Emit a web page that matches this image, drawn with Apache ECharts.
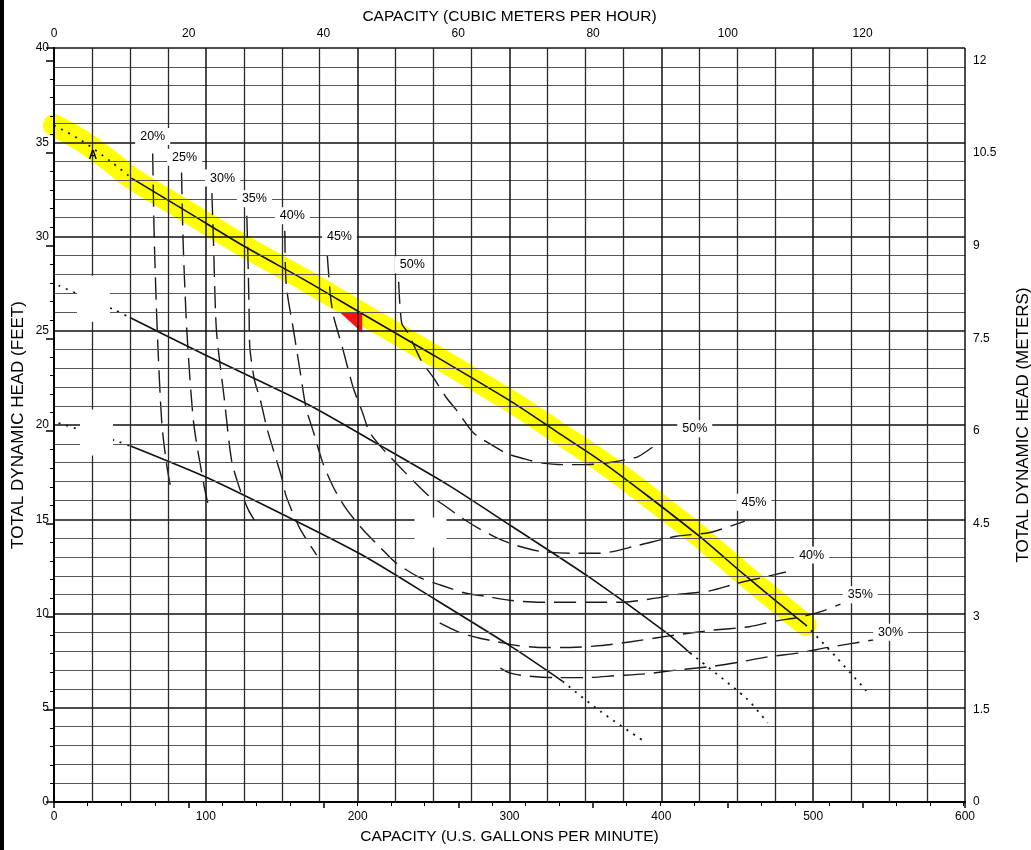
<!DOCTYPE html>
<html><head><meta charset="utf-8">
<script src="https://cdn.jsdelivr.net/npm/echarts@6/dist/echarts.min.js"></script>
<style>html,body{margin:0;padding:0;background:#fff}#chart{width:1031px;height:850px}</style>
</head><body><div id="chart"></div>
<script>
// ---- axis ranges / ticks ----
const gpmRange = [0, 600];          // bottom axis (US GPM)
const m3hRange = [0, 135.2];        // top axis (m3/h)
const feetRange = [0, 40];          // left axis (ft)
const meterRange = [0, 12.2];       // right axis (m)

// ---- pump curves (gpm, ft) ----
const topDotA   = [[0,35.9],[18,35.1],[37,34.0],[51,33.1]];
const topSolid  = [[51,33.1],[90,31.2],[127,29.4],[165,27.7],[203,25.9],[250,23.7],[302,21.2],[330,19.7],[360,18.1],[390,16.3],[425,14.1],[454,12.1],[475,10.7],[495,9.4]];
const topDotB   = [[495,9.4],[515,7.7],[535,5.9]];
const midDotA   = [[3,27.4],[20,26.8],[40,26.1],[50,25.7]];
const midSolid  = [[50,25.7],[100,23.7],[167,21.1],[213,19.0],[260,16.8],[302,14.6],[353,11.9],[403,9.0],[419,7.9]];
const midDotB   = [[419,7.9],[456,5.5],[470,4.2]];
const botDotA   = [[3,20.1],[43,19.1],[50,18.9]];
const botSolid  = [[50,18.9],[101,17.2],[157,15.0],[203,13.1],[250,10.8],[302,8.2],[335,6.4]];
const botDotB   = [[335,6.4],[360,4.8],[389,3.2]];

// ---- efficiency curves (gpm, ft) ----
const eff20 = [[65,34.4],[66,30.0],[68,25.0],[71,20.1],[74,18.0],[77,16.6]];
const eff25 = [[84,33.4],[85,29.8],[87.5,25.0],[92,20.1],[99,16.7],[101.5,15.8]];
const eff30 = [[104,32.3],[105,29.8],[107,25.0],[112,21.5],[117,18.1],[122,16.7],[128,15.5],[134,14.7]];
const eff35 = [[127,31.1],[128,28.0],[128.5,25.9],[129,24.1],[132,22.4],[136,21.3],[140,19.9],[144,18.8],[150,17.2],[153,16.2],[162,14.5],[173,13.1]];
const eff40 = [[152,30.3],[153,27.4],[158,24.9],[162,22.9],[166,20.9],[171,19.6],[177,18.0],[184,16.7],[192,15.6],[204,14.4],[215,13.5],[225,12.7],[241,11.9],[255,11.5],[270,11.1],[285,10.9],[300,10.7],[320,10.6],[350,10.6],[375,10.6],[395,10.8],[410,11.0],[432,11.2],[450,11.6],[466,11.9],[482,12.2]];
const eff45 = [[180,29.0],[182,26.9],[184,25.8],[190,24.1],[197,22.0],[203,20.7],[208,19.6],[218,18.6],[231,17.5],[246,16.3],[254,15.9],[270,15.0],[280,14.5],[292,14.0],[305,13.6],[320,13.3],[340,13.2],[360,13.2],[384,13.6],[410,14.1],[432,14.3],[455,14.9]];
const eff50 = [[227,27.6],[229,25.4],[233,24.9],[242,23.4],[250,22.5],[258,21.5],[265,20.8],[276,19.6],[285,19.1],[298,18.5],[310,18.2],[320,18.0],[335,17.9],[350,17.9],[365,18.0],[384,18.3],[392,18.7],[399,19.1]];
const eff35Low = [[254,9.5],[267,9.0],[280,8.7],[292,8.5],[305,8.3],[320,8.2],[340,8.2],[360,8.3],[380,8.5],[404,8.8],[432,9.1],[458,9.3],[475,9.6],[491,9.8],[505,10.1],[518,10.5]];
const eff30Low = [[294,7.1],[300,6.85],[310,6.7],[330,6.6],[350,6.6],[370,6.7],[390,6.8],[410,7.0],[434,7.2],[450,7.4],[470,7.7],[490,7.9],[510,8.2],[540,8.6]];

// ---- labels ----
const effLabelNames = ['20%','25%','30%','35%','40%','45%','50%','50%','45%','40%','35%','30%'];
const effLabelPos   = [[65,35.3],[86,34.2],[111,33.1],[132,32.0],[157,31.1],[188,30.0],[236,28.5],[422,19.8],[461,15.9],[499,13.1],[531,11.0],[551,9.0]];
const pointALabel = ['A'];
const pointAPos = [[25.5,34.3]];
const redTri = [[188,26.0],[203,26.0],[203,24.9]];
const erasePos = [[26,26.7],[28,19.6]];
const erasePos2 = [[248,14.3]];

const FONT = '"Liberation Sans", Arial, Helvetica, sans-serif';
const INK = '#000';

function curve(data, style, z) {
  return {
    type: 'line', data: data, symbol: 'none', showSymbol: false, smooth: 0.25,
    silent: true, animation: false, z: z || 2,
    lineStyle: Object.assign({ color: '#111', width: 1.4 }, style)
  };
}
const solid = { type: 'solid', width: 1.6 };
const dotted = { type: [2, 6], width: 1.8 };
const dashed = { type: [22, 9], width: 1.4, color: '#1a1a1a' };

const series = [];
// yellow highlighter
series.push({
  type: 'line', data: topDotA.concat(topSolid.slice(1)), symbol: 'none', smooth: 0.25,
  silent: true, animation: false, clip: false, z: 1,
  lineStyle: { color: '#ffff00', width: 22, cap: 'round', join: 'round' }
});
// red marker
series.push({
  type: 'custom', data: redTri, silent: true, z: 2, animation: false,
  renderItem: function (params, api) {
    if (params.dataIndex !== 0) return null;
    return { type: 'polygon', shape: { points: redTri.map(function (p) { return api.coord(p); }) }, style: { fill: '#ff1010' } };
  }
});
[topSolid, midSolid, botSolid].forEach(function (d) { series.push(curve(d, solid, 2)); });
[topDotA, topDotB, midDotA, midDotB, botDotA, botDotB].forEach(function (d) { series.push(curve(d, dotted, 2)); });
[eff20, eff25, eff30, eff35, eff40, eff45, eff50, eff35Low, eff30Low].forEach(function (d) { series.push(curve(d, dashed, 2)); });

// erased patches (white)
series.push({
  type: 'scatter', data: erasePos, symbol: 'rect', symbolSize: [33, 46], silent: true, z: 4, animation: false,
  itemStyle: { color: '#ffffff', opacity: 1 }
});
series.push({
  type: 'scatter', data: erasePos2, symbol: 'rect', symbolSize: [32, 30], silent: true, z: 4, animation: false,
  itemStyle: { color: '#ffffff', opacity: 1 }
});
// efficiency labels
series.push({
  type: 'scatter', silent: true, z: 6, animation: false, symbol: 'rect', symbolSize: 1,
  itemStyle: { color: 'rgba(0,0,0,0)', opacity: 1 },
  data: effLabelPos.map(function (p, i) { return { name: effLabelNames[i], value: p }; }),
  label: {
    show: true, position: 'inside', formatter: '{b}', color: INK, fontFamily: FONT, fontSize: 12.5,
    backgroundColor: '#ffffff', padding: [2, 5], opacity: 1
  }
});
series.push({
  type: 'scatter', silent: true, z: 6, animation: false, symbol: 'rect', symbolSize: 1,
  itemStyle: { color: 'rgba(0,0,0,0)', opacity: 1 },
  data: pointAPos.map(function (p, i) { return { name: pointALabel[i], value: p }; }),
  label: { show: true, position: 'inside', formatter: '{b}', color: INK, fontFamily: FONT, fontSize: 12, fontWeight: 'bold', opacity: 1 }
});

const axisLineStyle = { show: true, lineStyle: { color: '#000', width: 2 } };
const labelStyle = { color: INK, fontFamily: FONT, fontSize: 12 };
const nameStyle = { color: INK, fontFamily: FONT, fontSize: 15.5 };
const vNameStyle = { color: INK, fontFamily: FONT, fontSize: 17 };

const option = {
  backgroundColor: '#ffffff',
  animation: false,
  grid: { left: 54, right: 66, top: 48, bottom: 48, containLabel: false, outerBoundsMode: 'none' },
  xAxis: [
    {
      type: 'value', position: 'bottom', min: gpmRange[0], max: gpmRange[1], interval: 100, z: 3,
      name: 'CAPACITY (U.S. GALLONS PER MINUTE)', nameLocation: 'middle', nameGap: 27, nameTextStyle: nameStyle,
      nameMoveOverlap: false,
      axisLine: axisLineStyle, axisTick: { show: false },
      axisLabel: Object.assign({ margin: 9 }, labelStyle),
      splitLine: { show: true, lineStyle: { color: '#111', width: 1.5 } },
      minorTick: { show: false, splitNumber: 4 },
      minorSplitLine: { show: true, lineStyle: { color: '#2a2a2a', width: 1.3 } }
    },
    {
      type: 'value', position: 'top', min: m3hRange[0], max: m3hRange[1], interval: 20, z: 3,
      name: 'CAPACITY (CUBIC METERS PER HOUR)', nameLocation: 'middle', nameGap: 23, nameTextStyle: nameStyle,
      nameMoveOverlap: false,
      axisLine: axisLineStyle,
      axisTick: { show: true, inside: true, length: 6, lineStyle: { color: '#000', width: 1.5 } },
      minorTick: { show: true, splitNumber: 4, length: 4, lineStyle: { color: '#000', width: 1 } },
      axisLabel: Object.assign({ margin: 8, showMaxLabel: false }, labelStyle),
      splitLine: { show: false }
    }
  ],
  yAxis: [
    {
      type: 'value', position: 'left', min: feetRange[0], max: feetRange[1], interval: 5, z: 3,
      name: 'TOTAL DYNAMIC HEAD (FEET)', nameLocation: 'middle', nameGap: 27, nameRotate: 90, nameTextStyle: vNameStyle,
      nameMoveOverlap: false,
      axisLine: axisLineStyle, axisTick: { show: false },
      axisLabel: Object.assign({ margin: 5 }, labelStyle),
      splitLine: { show: true, lineStyle: { color: '#111', width: 1.5 } },
      minorTick: { show: false, splitNumber: 5 },
      minorSplitLine: { show: true, lineStyle: { color: '#555', width: 1.2 } }
    },
    {
      type: 'value', position: 'right', min: meterRange[0], max: meterRange[1], interval: 1.5, z: 3,
      name: 'TOTAL DYNAMIC HEAD (METERS)', nameLocation: 'middle', nameGap: 50, nameRotate: 90, nameTextStyle: vNameStyle,
      nameMoveOverlap: false,
      axisLine: axisLineStyle,
      axisTick: { show: true, inside: true, length: 8, lineStyle: { color: '#000', width: 1.5 } },
      minorTick: { show: true, splitNumber: 5, length: 4, lineStyle: { color: '#000', width: 1 } },
      axisLabel: Object.assign({ margin: 8, showMaxLabel: false }, labelStyle),
      splitLine: { show: false }
    }
  ],
  graphic: [{ type: 'rect', left: 0, top: 0, shape: { width: 4, height: 850 }, style: { fill: '#000' }, silent: true }],
  series: series
};
const chart = echarts.init(document.getElementById('chart'), null, { renderer: 'canvas' });
chart.setOption(option);
</script></body></html>
